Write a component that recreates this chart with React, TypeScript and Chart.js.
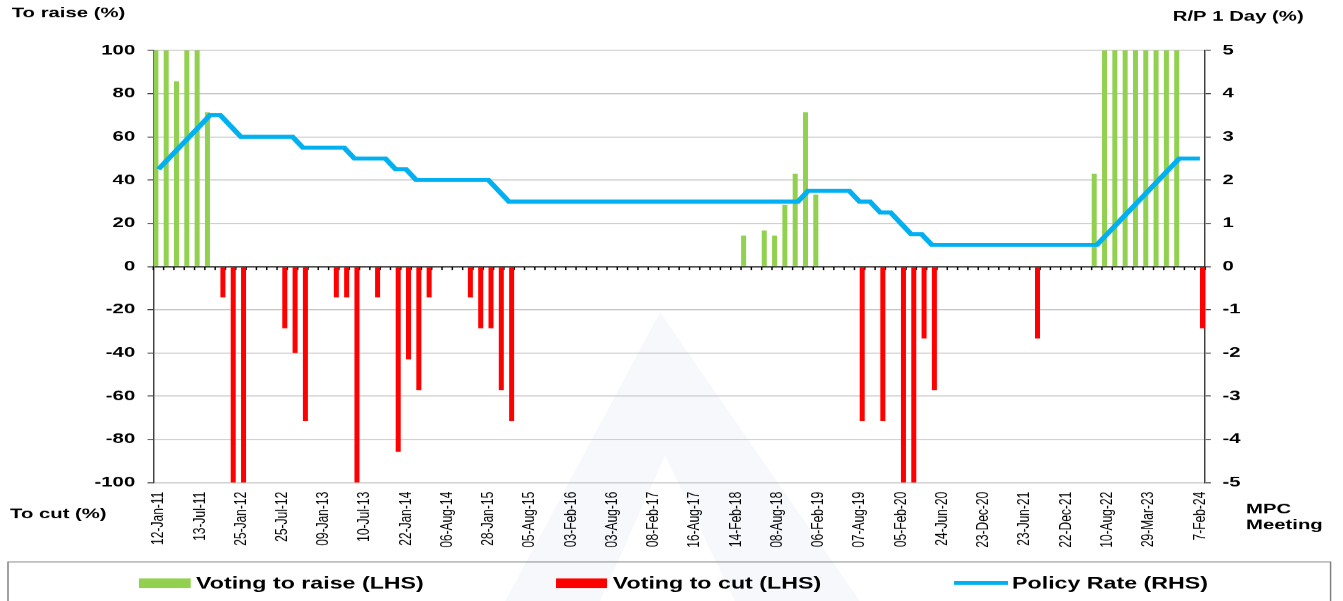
import React, { useEffect, useRef } from 'react';
import { Chart, registerables } from 'chart.js';

Chart.register(...registerables);

// ---- Data ----
// MPC meetings (only the labelled meetings carry their date)
const meetings: string[] = [
  '12-Jan-11', '', '', '', '13-Jul-11', '', '', '',
  '25-Jan-12', '', '', '', '25-Jul-12', '', '', '',
  '09-Jan-13', '', '', '', '10-Jul-13', '', '', '',
  '22-Jan-14', '', '', '', '06-Aug-14', '', '', '',
  '28-Jan-15', '', '', '', '05-Aug-15', '', '', '',
  '03-Feb-16', '', '', '', '03-Aug-16', '', '', '',
  '08-Feb-17', '', '', '', '16-Aug-17', '', '', '',
  '14-Feb-18', '', '', '', '08-Aug-18', '', '', '',
  '06-Feb-19', '', '', '', '07-Aug-19', '', '', '',
  '05-Feb-20', '', '', '', '24-Jun-20', '', '', '',
  '23-Dec-20', '', '', '', '23-Jun-21', '', '', '',
  '22-Dec-21', '', '', '', '10-Aug-22', '', '', '',
  '29-Mar-23', '', '', '', '', '7-Feb-24',
];

const raiseVotes: (number | null)[] = [
  100, 100, 85.7, 100, 100, 71.4, null, null,
  null, null, null, null, null, null, null, null,
  null, null, null, null, null, null, null, null,
  null, null, null, null, null, null, null, null,
  null, null, null, null, null, null, null, null,
  null, null, null, null, null, null, null, null,
  null, null, null, null, null, null, null, null,
  null, 14.3, null, 16.7, 14.3, 28.6, 42.9, 71.4,
  33.3, null, null, null, null, null, null, null,
  null, null, null, null, null, null, null, null,
  null, null, null, null, null, null, null, null,
  null, null, null, 42.9, 100, 100, 100, 100,
  100, 100, 100, 100, null, null,
];

const cutVotes: (number | null)[] = [
  null, null, null, null, null, null, -14.3, -100,
  -100, null, null, null, -28.6, -40, -71.4, null,
  null, -14.3, -14.3, -100, null, -14.3, null, -85.7,
  -42.9, -57.1, -14.3, null, null, null, -14.3, -28.6,
  -28.6, -57.1, -71.4, null, null, null, null, null,
  null, null, null, null, null, null, null, null,
  null, null, null, null, null, null, null, null,
  null, null, null, null, null, null, null, null,
  null, null, null, null, -71.4, null, -71.4, null,
  -100, -100, -33.3, -57.1, null, null, null, null,
  null, null, null, null, null, -33.3, null, null,
  null, null, null, null, null, null, null, null,
  null, null, null, null, null, -28.6,
];

const policyRate: number[] = [
  2.25, 2.5, 2.75, 3, 3.25, 3.5, 3.5, 3.25,
  3, 3, 3, 3, 3, 3, 2.75, 2.75,
  2.75, 2.75, 2.75, 2.5, 2.5, 2.5, 2.5, 2.25,
  2.25, 2, 2, 2, 2, 2, 2, 2,
  2, 1.75, 1.5, 1.5, 1.5, 1.5, 1.5, 1.5,
  1.5, 1.5, 1.5, 1.5, 1.5, 1.5, 1.5, 1.5,
  1.5, 1.5, 1.5, 1.5, 1.5, 1.5, 1.5, 1.5,
  1.5, 1.5, 1.5, 1.5, 1.5, 1.5, 1.5, 1.75,
  1.75, 1.75, 1.75, 1.75, 1.5, 1.5, 1.25, 1.25,
  1, 0.75, 0.75, 0.5, 0.5, 0.5, 0.5, 0.5,
  0.5, 0.5, 0.5, 0.5, 0.5, 0.5, 0.5, 0.5,
  0.5, 0.5, 0.5, 0.5, 0.75, 1, 1.25, 1.5,
  1.75, 2, 2.25, 2.5, 2.5, 2.5,
];

const seriesNames = ['Voting to raise (LHS)', 'Voting to cut (LHS)', 'Policy Rate (RHS)'];
const leftRange = [-100, 100, 20];
const rightRange = [-5, 5, 1];

// ---- Layout (the reference is horizontally stretched; render narrow and stretch) ----
const CW = 926;
const CH = 601;
const SX = 1343 / CW;
const DPR = 1.4504;
const cx = (css: number) => css / SX;
const FONT = '"Liberation Sans", Arial, Helvetica, sans-serif';
const GREEN = '#92d050';
const RED = '#ff0000';
const BLUE = '#00b0f0';

const decorPlugin = {
  id: 'decor',
  beforeDraw(chart: any) {
    // faint background watermark
    const { ctx } = chart;
    ctx.save();
    ctx.fillStyle = 'rgba(200, 206, 232, 0.14)';
    ctx.beginPath();
    ctx.moveTo(cx(660), 312);
    ctx.lineTo(cx(860), 601);
    ctx.lineTo(cx(505), 601);
    ctx.closePath();
    ctx.fill();
    ctx.fillStyle = '#ffffff';
    ctx.beginPath();
    ctx.moveTo(cx(665), 455);
    ctx.lineTo(cx(735), 601);
    ctx.lineTo(cx(600), 601);
    ctx.closePath();
    ctx.fill();
    ctx.restore();
  },
  beforeDatasetsDraw(chart: any) {
    const { ctx, chartArea } = chart;
    const y0 = chart.scales.y.getPixelForValue(0);
    const n = meetings.length;
    const w = (chartArea.right - chartArea.left) / n;
    ctx.save();
    ctx.strokeStyle = '#000';
    ctx.lineWidth = 1;
    ctx.beginPath();
    for (let k = 0; k <= n; k++) {
      const x = chartArea.left + k * w;
      ctx.moveTo(x, y0);
      ctx.lineTo(x, y0 + 3.5);
    }
    ctx.stroke();
    ctx.restore();
  },
  afterDraw(chart: any) {
    const { ctx } = chart;
    ctx.save();
    ctx.fillStyle = '#000';
    ctx.textBaseline = 'alphabetic';
    ctx.textAlign = 'left';
    ctx.font = `bold 14px ${FONT}`;
    ctx.fillText('To raise (%)', cx(11.7), 17.5);
    ctx.fillText('To cut (%)', cx(10), 517.5);
    ctx.fillText('R/P 1 Day (%)', cx(1172.7), 20.5);
    ctx.fillText('MPC', cx(1246), 513);
    ctx.fillText('Meeting', cx(1246), 529);

    // legend box
    ctx.strokeStyle = '#7f7f7f';
    ctx.lineWidth = 1;
    ctx.strokeRect(cx(8), 561.5, cx(1330.5) - cx(8), 60);

    ctx.font = `bold 16px ${FONT}`;
    ctx.fillStyle = GREEN;
    ctx.fillRect(cx(139), 578, cx(190.7) - cx(139), 9.5);
    ctx.fillStyle = '#000';
    ctx.fillText(seriesNames[0], cx(196), 588.3);

    ctx.fillStyle = RED;
    ctx.fillRect(cx(556), 578, cx(607) - cx(556), 9.5);
    ctx.fillStyle = '#000';
    ctx.fillText(seriesNames[1], cx(612.7), 588.3);

    ctx.strokeStyle = BLUE;
    ctx.lineWidth = 4;
    ctx.beginPath();
    ctx.moveTo(cx(954), 582.5);
    ctx.lineTo(cx(1008), 582.5);
    ctx.stroke();
    ctx.fillStyle = '#000';
    ctx.fillText(seriesNames[2], cx(1012), 588.3);
    ctx.restore();
  },
};

export default function App() {
  const ref = useRef<HTMLCanvasElement>(null);

  useEffect(() => {
    const canvas = ref.current;
    if (!canvas) return;
    const chart = new Chart(canvas, {
      type: 'bar',
      data: {
        labels: meetings,
        datasets: [
          {
            type: 'line',
            label: seriesNames[2],
            data: policyRate,
            yAxisID: 'y1',
            borderColor: BLUE,
            backgroundColor: BLUE,
            borderWidth: 4,
            pointRadius: 0,
            tension: 0,
            order: 0,
          } as any,
          {
            type: 'bar',
            label: seriesNames[0],
            data: raiseVotes,
            yAxisID: 'y',
            backgroundColor: GREEN,
            categoryPercentage: 1,
            barPercentage: 0.97,
            order: 1,
          },
          {
            type: 'bar',
            label: seriesNames[1],
            data: cutVotes,
            yAxisID: 'y',
            backgroundColor: RED,
            categoryPercentage: 1,
            barPercentage: 0.97,
            order: 1,
          },
        ],
      },
      options: {
        responsive: false,
        devicePixelRatio: DPR,
        animation: false,
        layout: { padding: { top: 50.3, left: 0, right: 0, bottom: 0 } },
        plugins: {
          legend: { display: false },
          tooltip: { enabled: false },
        },
        scales: {
          x: {
            type: 'category',
            offset: true,
            grid: { display: false, drawTicks: false },
            border: { display: false },
            ticks: {
              autoSkip: false,
              maxRotation: 90,
              minRotation: 90,
              padding: 9,
              color: '#000',
              font: { family: FONT, size: 12 },
            },
            afterFit: (s: any) => {
              s.height = CH - 482.3;
            },
          },
          y: {
            position: 'left',
            min: leftRange[0],
            max: leftRange[1],
            ticks: {
              stepSize: leftRange[2],
              padding: 8.5,
              color: '#000',
              font: { family: FONT, size: 14, weight: 'bold' },
            },
            grid: {
              color: (c: any) => (c.tick && c.tick.value === 0 ? '#000' : '#c6c6c6'),
              tickColor: '#404040',
              tickLength: 4,
              lineWidth: 1,
            },
            border: { color: '#404040', width: 1 },
            afterFit: (s: any) => {
              s.width = cx(153.3);
            },
          },
          y1: {
            position: 'right',
            min: rightRange[0],
            max: rightRange[1],
            ticks: {
              stepSize: rightRange[2],
              padding: 8,
              color: '#000',
              font: { family: FONT, size: 14, weight: 'bold' },
            },
            grid: { drawOnChartArea: false, tickColor: '#404040', tickLength: 4 },
            border: { color: '#404040', width: 1 },
            afterFit: (s: any) => {
              s.width = CW - cx(1205);
            },
          },
        },
      } as any,
      plugins: [decorPlugin],
    });
    return () => chart.destroy();
  }, []);

  return (
    <div
      style={{
        position: 'absolute',
        left: 0,
        top: 0,
        width: 1343,
        height: 601,
        overflow: 'hidden',
        background: '#fff',
      }}
    >
      <canvas
        ref={ref}
        width={CW}
        height={CH}
        style={{ width: '1343px', height: '601px', display: 'block' }}
      />
    </div>
  );
}
